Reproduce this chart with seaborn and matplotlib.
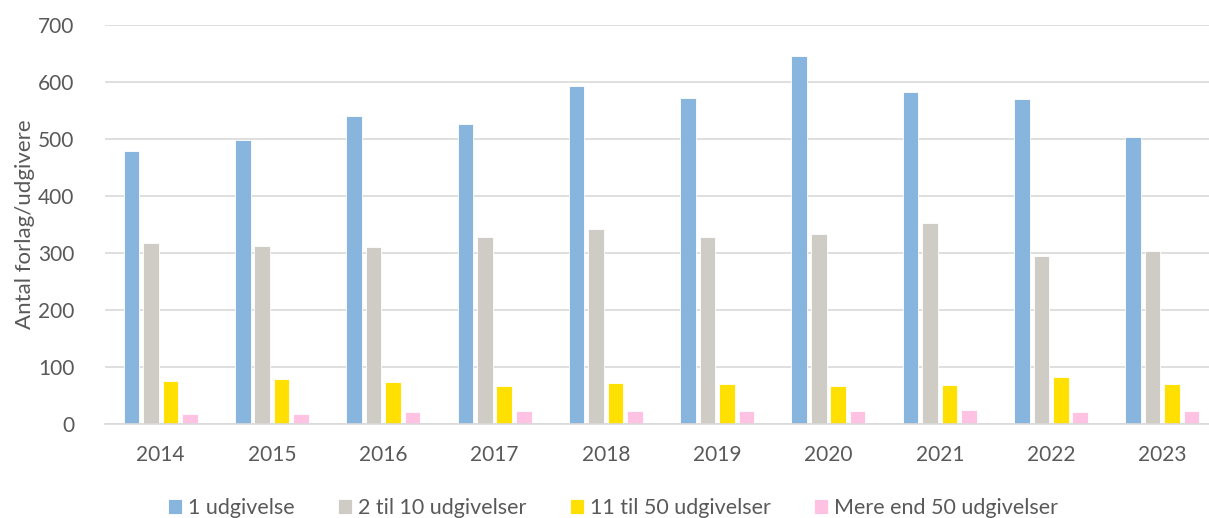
import pandas as pd
import matplotlib.pyplot as plt
import seaborn as sns

# data
years = ['2014', '2015', '2016', '2017', '2018', '2019', '2020', '2021', '2022', '2023']
one_pub = [479, 498, 540, 526, 593, 572, 646, 582, 570, 503]
two_to_ten = [317, 312, 310, 328, 342, 328, 333, 352, 294, 303]
eleven_to_fifty = [76, 79, 73, 66, 72, 70, 66, 69, 82, 70]
over_fifty = [18, 17, 21, 22, 22, 22, 22, 24, 21, 22]

series_names = ['1 udgivelse', '2 til 10 udgivelser', '11 til 50 udgivelser', 'Mere end 50 udgivelser']
colors = ['#87B5DE', '#CFCCC5', '#FFE000', '#FFC2E2']

# long format table for seaborn
rows = []
for name, values in zip(series_names, [one_pub, two_to_ten, eleven_to_fifty, over_fifty]):
    for year, v in zip(years, values):
        rows.append({'year': year, 'series': name, 'value': v})
df = pd.DataFrame(rows)

sns.set_style('white')
plt.rcParams['font.family'] = ['Lato', 'DejaVu Sans']
text_color = '#595959'

fig = plt.figure(figsize=(12.09, 5.18), dpi=100)
ax = fig.add_axes([105 / 1209, 1 - 424 / 518, 1113 / 1209, 399 / 518])

sns.barplot(data=df, x='year', y='value', hue='series', hue_order=series_names,
            palette=colors, saturation=1, width=0.7, gap=0.2, ax=ax, legend=True,
            edgecolor='white', linewidth=0.6)

ax.set_ylim(0, 700)
ax.set_yticks(range(0, 701, 100))
ax.grid(axis='y', color='#D9D9D9', linewidth=1.2)
ax.set_axisbelow(True)
for side in ['top', 'right', 'left']:
    ax.spines[side].set_visible(False)
ax.spines['bottom'].set_color('#D9D9D9')
ax.spines['bottom'].set_linewidth(1.2)
ax.tick_params(axis='both', length=0, labelsize=15, colors=text_color)
ax.tick_params(axis='x', pad=15)
ax.tick_params(axis='y', pad=22)
ax.set_xlabel('')
ax.set_ylabel('Antal forlag/udgivere', fontsize=16, color=text_color, labelpad=2)

handles, labels = ax.get_legend_handles_labels()
ax.legend_.remove()
fig.legend(handles, labels, loc='center', bbox_to_anchor=(613 / 1209, 1 - 508 / 518),
           ncol=4, frameon=False, fontsize=15.5, labelcolor=text_color,
           handlelength=0.65, handleheight=0.65, handletextpad=0.3, columnspacing=2.0)

fig.savefig('out.png', dpi=100)
